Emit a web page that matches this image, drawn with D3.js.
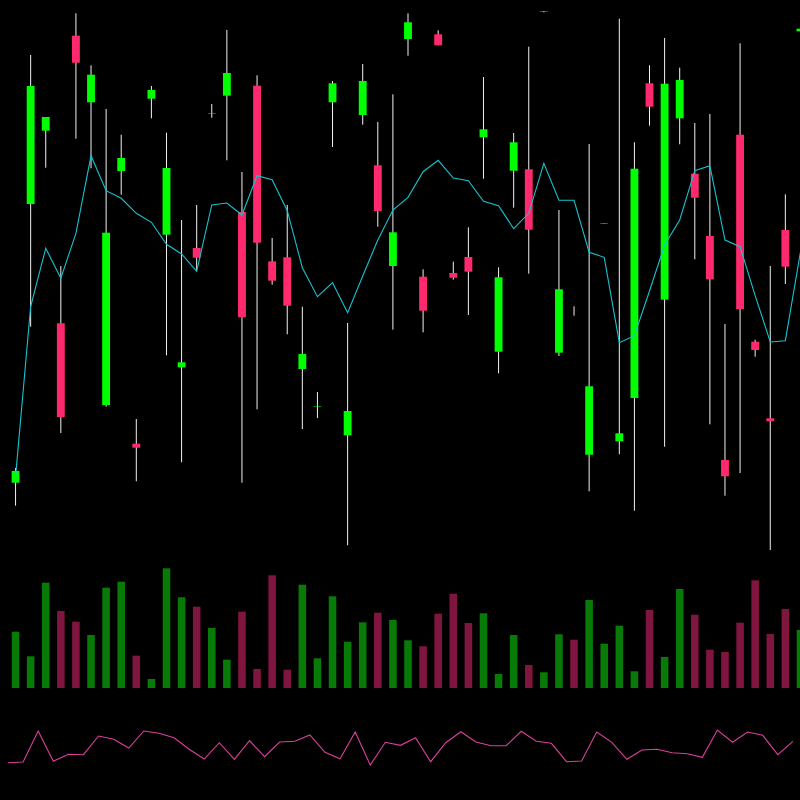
<!DOCTYPE html>
<html>
<head>
<meta charset="utf-8">
<script src="https://cdn.jsdelivr.net/npm/d3@7"></script>
<style>
  html, body { margin: 0; padding: 0; background: #000; }
  svg { display: block; }
</style>
</head>
<body>
<div id="chart"></div>
<script>
// candle prices (one entry per session)
var openPrices  = [117.3, 396, 469.3, 276.7, 564.3, 497.7, 195, 429, 156.3, 501.3,
                   365.3, 232.7, 352, 486.5, 504.3, 388, 514.3, 338.7, 342.7, 231,
                   193.5, 497.7, 164.7, 485, 434.7, 334, 561, 323.3, 565.7, 327,
                   343, 462.7, 248.3, 429.3, 430.7, 588, 247.3, 289.1, 145.3, 376.5,
                   158.7, 202, 516.7, 300.3, 481.7, 426.3, 364, 140, 465.3, 258.3,
                   181.7, 370, 568.7];
var highPrices  = [132, 545, 483, 334, 586.7, 534.7, 491, 465.3, 181, 514,
                   467.3, 380, 395, 496, 570, 428, 524.7, 362, 395, 293.3,
                   208, 519, 277, 536, 478, 505.7, 586.7, 330.7, 569.7, 338.3,
                   372.7, 523, 332.7, 467, 553.3, 589, 390, 293.7, 456, 377,
                   581.3, 457.7, 534.7, 562, 532.3, 477, 486, 276, 556.7, 260.3,
                   334, 405.7, 572];
var lowPrices   = [94.3, 273.3, 432.3, 167, 461.3, 431.7, 193.3, 405.3, 118.7, 481.7,
                   244.7, 137.7, 330, 482.3, 439.7, 117.3, 190.7, 315.3, 265.7, 171,
                   182, 453, 54.7, 475.3, 373.3, 270.3, 544.3, 267.7, 554.7, 320.3,
                   285, 421.3, 226.7, 392.3, 326.3, 587.7, 244, 284.3, 108.7, 376.5,
                   145.7, 89.3, 474.3, 153.3, 455.7, 340.7, 175.7, 104.3, 127, 243.3,
                   50, 316, 568];
var closePrices = [129, 514, 483, 183, 537.3, 525.3, 367.3, 442, 152.3, 510,
                   432, 237.7, 342.3, 487, 527, 282.7, 357.3, 319.3, 294.3, 246,
                   194, 516.7, 189, 519, 389, 367.7, 577.7, 289.3, 554.7, 322.3,
                   328.3, 470.7, 322.7, 457.7, 370.3, 588.5, 310.7, 289, 213.7, 377,
                   166.7, 431.3, 493.3, 516.3, 520, 402.3, 320.7, 123.7, 291, 250,
                   178.7, 333.3, 571.3];
// traded volume
var volumes = [56.3, 31.7, 105.3, 77, 66.3, 53, 100.3, 106.3, 32.3, 9,
               119.7, 90.7, 81.3, 60, 28.3, 76.3, 19, 112.7, 18.3, 103.3,
               29.7, 91.7, 46.3, 65.7, 75.3, 68, 47.7, 41.7, 74.3, 94.3,
               65, 74.7, 14, 53, 23, 15.7, 53.7, 48.3, 88, 44.3,
               62.3, 16.7, 78, 31, 99, 73.3, 38.3, 36, 65.3, 107.7,
               54, 79, 58];
// trend line over the candles
var trendLine = [123.3, 293.3, 351.7, 321.7, 366.7, 444.3, 409.3, 401.7, 386.7, 377.7,
                 355.7, 346, 328.7, 395, 397, 385, 424.3, 420.3, 389.3, 332.3,
                 303.3, 317.3, 287.3, 324, 360, 390, 402.7, 428.3, 439.7, 422,
                 419.3, 398.7, 394.3, 371.3, 386.7, 436.7, 399.7, 399.7, 347.7, 342.7,
                 257.3, 264.3, 309, 355, 380, 429.3, 434.3, 360, 353.3, 304.4,
                 258, 259.3, 348];
// lower oscillator
var oscillator = [27.3, 28, 59, 28.7, 35.7, 35.3, 54, 50.7, 42, 59,
                  56.7, 52.3, 40.7, 31, 47.3, 30.7, 49.3, 33.3, 48, 48.7,
                  55, 37.7, 31.3, 58, 25, 47.7, 44.7, 52.3, 28.3, 47.3,
                  58.3, 48, 44.3, 44.3, 58.7, 48.7, 46.7, 28.3, 29, 58,
                  47.7, 30.7, 40, 40.7, 37.3, 36.3, 32.7, 60, 47.7, 58,
                  54.7, 35.3, 48.7];

var width = 800,
    height = 800,
    n = openPrices.length,
    upColor = "#00ff00",
    downColor = "#ff2a6e",
    volUpColor = "#087a08",
    volDownColor = "#801540";

var candles = openPrices.map(function (o, i) {
    return {i: i, o: o, h: highPrices[i], l: lowPrices[i], c: closePrices[i],
            v: volumes[i], up: closePrices[i] >= o};
});

var svg = d3.select("#chart").append("svg")
    .attr("width", width)
    .attr("height", height)
    .style("background", "#000");

// x: band start of every session, centre is half a step further
var x = d3.scaleLinear().domain([0, n]).range([8, 808]),
    step = x(1) - x(0),
    cx = function (i) { return x(i) + step / 2; };

var y = d3.scaleLinear().domain([0, 600]).range([600, 0]),
    yVol = d3.scaleLinear().domain([0, 120]).range([688, 568]),
    yOsc = d3.scaleLinear().domain([0, 60]).range([790, 730]);

var bodyW = step * 0.52,
    volW = step * 0.5;

// volume bars
svg.append("g").selectAll("rect")
    .data(candles)
    .join("rect")
    .attr("x", function (d) { return cx(d.i) - volW / 2; })
    .attr("y", function (d) { return yVol(d.v); })
    .attr("width", volW)
    .attr("height", function (d) { return yVol(0) - yVol(d.v); })
    .attr("fill", function (d) { return d.up ? volUpColor : volDownColor; });

// wicks
svg.append("g").selectAll("line")
    .data(candles)
    .join("line")
    .attr("x1", function (d) { return cx(d.i); })
    .attr("x2", function (d) { return cx(d.i); })
    .attr("y1", function (d) { return y(d.h); })
    .attr("y2", function (d) { return y(d.l); })
    .attr("stroke", "#f2f2f2")
    .attr("stroke-width", 1);

// bodies
svg.append("g").selectAll("rect")
    .data(candles)
    .join("rect")
    .attr("x", function (d) { return cx(d.i) - bodyW / 2; })
    .attr("y", function (d) { return y(Math.max(d.o, d.c)); })
    .attr("width", bodyW)
    .attr("height", function (d) { return Math.abs(y(d.o) - y(d.c)); })
    .attr("fill", function (d) { return d.up ? upColor : downColor; });

// trend line
svg.append("path")
    .datum(trendLine)
    .attr("fill", "none")
    .attr("stroke", "#17c3d0")
    .attr("stroke-width", 1.1)
    .attr("d", d3.line()
        .x(function (d, i) { return cx(i); })
        .y(function (d) { return y(d); }));

// oscillator
svg.append("path")
    .datum(oscillator)
    .attr("fill", "none")
    .attr("stroke", "#dc3f9b")
    .attr("stroke-width", 1.1)
    .attr("d", d3.line()
        .x(function (d, i) { return x(i); })
        .y(function (d) { return yOsc(d); }));
</script>
</body>
</html>
